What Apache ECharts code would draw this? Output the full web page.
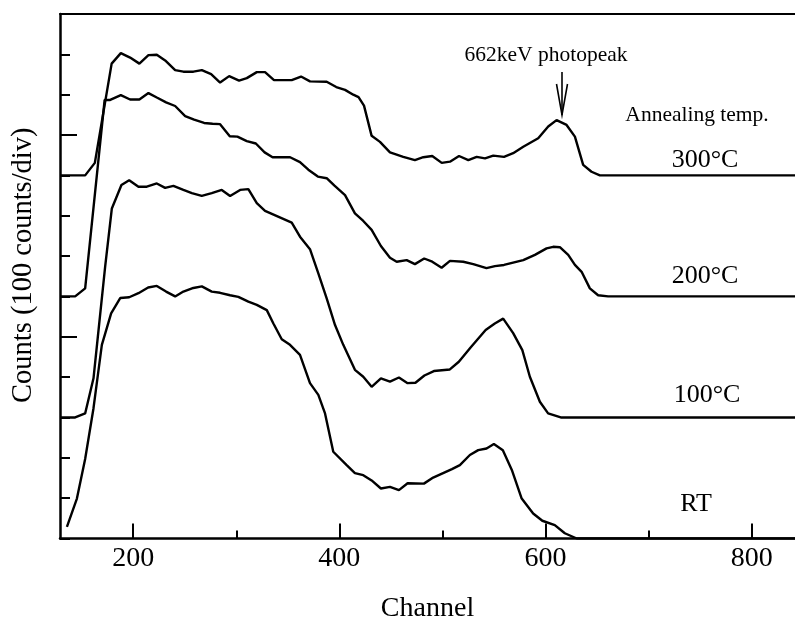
<!DOCTYPE html>
<html>
<head>
<meta charset="utf-8">
<script src="https://cdn.jsdelivr.net/npm/echarts@6/dist/echarts.min.js"></script>
<style>html,body{margin:0;padding:0;background:#fff}#c{width:795px;height:618px}</style>
</head>
<body>
<div id="c"></div>
<script>
// ---- data (channel, counts above each curve's own baseline) ----
const seriesNames = ['RT', '100°C', '200°C', '300°C'];
const baselineOffsets = [0, 300, 600, 900]; // counts; curves are stacked 3 div apart

const rtChannel = [135.7,145.4,153.4,161.5,169.6,178.6,187.4,196.1,205.1,214.5,222.9,231.9,240.7,248.7,258.4,266.6,276.2,284.3,294.0,302.0,311.7,319.9,329.6,336.0,344.1,352.1,361.8,371.5,379.6,386.1,394.1,407.1,415.1,423.2,431.3,440.3,449.1,457.8,466.2,482.0,491.0,509.2,516.9,526.6,534.7,542.8,549.9,558.6,567.3,576.7,588.0,596.9,609.0,618.7,630.3,842];
const rtCounts = [29,99,197,323,480,558,596,598,608,622,626,612,600,612,621,625,612,609,603,599,587,579,566,533,494,480,455,385,356,310,215,182,162,157,144,124,128,120,137,136,151,172,182,207,219,223,234,219,170,100,62,44,33,13,0,0];

const c100Channel = [129.2,143.7,153.4,161.5,172.8,179.3,188.6,196.1,205.1,213.2,222.9,231.0,239.0,248.7,256.9,266.5,276.2,285.9,294.0,303.7,311.7,319.9,327.9,353.8,361.8,371.5,379.6,387.7,395.8,403.8,415.1,423.2,431.3,440.3,449.1,457.8,466.2,473.8,482.5,491.7,507.2,515.9,527.1,541.9,550.8,558.9,568.6,577.5,584.8,594.5,602.5,614.8,842];
const c100Counts = [0,0,10,97,374,518,576,588,572,572,580,569,574,564,556,549,556,564,549,564,566,531,512,483,448,417,357,295,229,180,118,101,76,97,89,99,85,86,104,115,119,138,173,217,233,245,209,167,101,39,10,0,0];

const c200Channel = [129.2,143.7,153.4,172.3,177.7,188.0,197.0,206.0,214.8,222.9,231.9,240.7,250.4,259.1,268.8,277.0,284.3,293.7,301.1,310.2,319.0,327.5,335.2,352.2,361.8,369.9,379.1,387.7,395.0,405.5,415.1,423.2,431.3,440.3,449.1,455.6,465.3,473.3,482.3,490.1,499.2,507.3,520.2,529.9,542.7,550.9,559.7,578.4,589.7,601.0,607.4,613.9,622.0,628.5,635.0,643.0,651.0,660.7,842];
const c200Counts = [0,0,20,487,487,499,488,488,504,493,481,472,447,438,430,428,427,397,396,385,379,357,345,345,333,314,297,293,275,251,206,187,165,125,96,86,90,80,94,86,71,88,86,80,70,75,78,90,103,119,123,122,103,78,61,20,3,0,0];

const c300Channel = [129.2,153.4,162.8,179.1,188.0,197.0,206.0,214.8,222.9,231.0,240.7,248.7,258.4,266.6,275.6,284.3,293.1,302.7,310.2,319.9,327.9,336.6,353.8,362.8,371.5,387.7,397.0,405.5,413.5,418.6,423.9,431.3,439.4,449.1,462.0,473.3,481.4,490.1,499.3,507.3,516.1,525.1,533.2,541.3,549.3,559.7,568.6,578.4,592.9,602.6,610.7,620.4,628.5,636.5,644.6,652.7,842];
const c300Counts = [0,0,31,277,303,292,277,298,299,285,261,257,257,261,251,230,246,235,241,256,256,236,236,245,233,232,219,212,200,194,173,98,83,57,46,38,45,48,31,34,48,38,46,42,49,46,55,71,92,121,137,125,96,26,9,0,0];

const xMajorTicks = [200, 400, 600, 800];
const xMinorTicks = [300, 500, 700];
const yMajorTicks = [500, 1000];

const channelArrays = [rtChannel, c100Channel, c200Channel, c300Channel];
const countArrays = [rtCounts, c100Counts, c200Counts, c300Counts];

// ---- chart ----
const FONT = '"Liberation Serif", "Times New Roman", serif';
const chart = echarts.init(document.getElementById('c'), null, {renderer: 'canvas'});

const series = seriesNames.map((name, k) => ({
  name: name,
  type: 'line',
  xAxisIndex: 0,
  yAxisIndex: 0,
  showSymbol: false,
  symbol: 'none',
  animation: false,
  lineStyle: {color: '#000', width: 2.4},
  data: channelArrays[k].map((c, i) => [c, countArrays[k][i] + baselineOffsets[k]])
}));

const text = (t, x, y, size) => ({
  type: 'text',
  x: x, y: y,
  style: {text: t, font: size + 'px ' + FONT, fill: '#000', textAlign: 'center', textVerticalAlign: 'middle'}
});

chart.setOption({
  animation: false,
  backgroundColor: '#fff',
  grid: {left: 60, right: 0, top: 14, bottom: 79.5, containLabel: false, outerBoundsMode: 'none'},
  xAxis: [
    {
      type: 'value', min: 129, max: 842, position: 'bottom',
      name: 'Channel', nameLocation: 'middle', nameGap: 56,
      nameTextStyle: {fontFamily: FONT, fontSize: 28, color: '#000'},
      axisLine: {show: true, onZero: false, lineStyle: {color: '#000', width: 2.5}},
      axisTick: {show: true, inside: true, length: 15, customValues: xMajorTicks, lineStyle: {color: '#000', width: 2}},
      axisLabel: {show: true, customValues: xMajorTicks, fontFamily: FONT, fontSize: 28, color: '#000', margin: 6},
      splitLine: {show: false}
    },
    {
      type: 'value', min: 129, max: 842, position: 'bottom',
      axisLine: {show: false},
      axisTick: {show: true, inside: true, length: 8, customValues: xMinorTicks, lineStyle: {color: '#000', width: 2}},
      axisLabel: {show: false},
      splitLine: {show: false}
    },
    {
      type: 'value', min: 129, max: 842, position: 'top',
      axisLine: {show: true, onZero: false, lineStyle: {color: '#000', width: 2}},
      axisTick: {show: false}, axisLabel: {show: false}, splitLine: {show: false}
    }
  ],
  yAxis: [
    {
      type: 'value', min: 0, max: 1300, interval: 100, position: 'left',
      name: 'Counts (100 counts/div)', nameLocation: 'middle', nameGap: 22, nameRotate: 90,
      nameTextStyle: {fontFamily: FONT, fontSize: 28.5, color: '#000', padding: [0, 0, 0, 22]},
      axisLine: {show: true, onZero: false, lineStyle: {color: '#000', width: 2.5}},
      axisTick: {show: true, inside: true, length: 10, lineStyle: {color: '#000', width: 2}},
      axisLabel: {show: false},
      splitLine: {show: false}
    },
    {
      type: 'value', min: 0, max: 1300, position: 'left',
      axisLine: {show: false},
      axisTick: {show: true, inside: true, length: 17, customValues: yMajorTicks, lineStyle: {color: '#000', width: 2}},
      axisLabel: {show: false},
      splitLine: {show: false}
    }
  ],
  series: series,
  graphic: [
    text('662keV photopeak', 546, 55, 21.5),
    {type: 'line', shape: {x1: 562, y1: 72, x2: 562, y2: 115}, style: {stroke: '#000', lineWidth: 1.6}},
    {type: 'polyline', shape: {points: [[556.5, 84], [562, 115], [567.5, 84]]}, style: {stroke: '#000', fill: null, lineWidth: 1.6}},
    text('Annealing temp.', 697, 115, 21.5),
    text('300°C', 705, 160, 26),
    text('200°C', 705, 276, 26),
    text('100°C', 707, 395, 26),
    text('RT', 696, 504, 26)
  ]
});
</script>
</body>
</html>
